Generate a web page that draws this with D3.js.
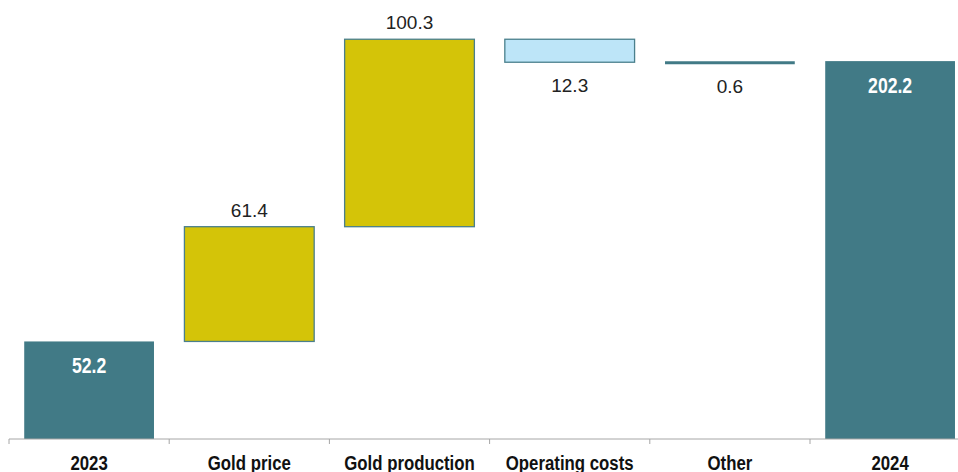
<!DOCTYPE html>
<html>
<head>
<meta charset="utf-8">
<script src="https://cdn.jsdelivr.net/npm/d3@7"></script>
<style>
  html, body { margin: 0; padding: 0; background: #fff; }
  svg { display: block; }
  .val { font-family: "Liberation Sans", Arial, sans-serif; font-size: 19px; fill: #222; }
  .tot { font-family: "Liberation Sans", Arial, sans-serif; font-size: 22px; font-weight: bold; fill: #fff; }
  .cat { font-family: "Liberation Sans", Arial, sans-serif; font-size: 21px; font-weight: bold; fill: #111; }
</style>
</head>
<body>
<svg id="chart" width="958" height="472"></svg>
<script>
const categories = ["2023", "Gold price", "Gold production", "Operating costs", "Other", "2024"];
const changes = [52.2, 61.4, 100.3, -12.3, -0.6, 202.2];
const kinds = ["total", "up", "up", "down", "down", "total"];
const labels = ["52.2", "61.4", "100.3", "12.3", "0.6", "202.2"];

const svg = d3.select("#chart");
const width = 958;
const narrow = 0.8; // fake a condensed face, no Arial Narrow here

const x = d3.scaleBand()
  .domain(categories)
  .range([9, 9 + 160.2 * categories.length])
  .paddingInner(0.19)
  .paddingOuter(0.095);

const y = d3.scaleLinear().domain([0, 234.9]).range([439, 0]);

// running totals for the waterfall
let run = 0;
const bars = categories.map((c, i) => {
  let lo, hi;
  if (kinds[i] === "total") {
    lo = 0; hi = changes[i]; run = changes[i];
  } else {
    const start = run;
    run += changes[i];
    lo = Math.min(start, run); hi = Math.max(start, run);
  }
  return { cat: c, lo, hi, kind: kinds[i], label: labels[i] };
});

const fill = { total: "#417a86", up: "#d4c408", down: "#bde5f8" };

const g = svg.append("g");

g.selectAll("rect.bar")
  .data(bars.filter(d => d.cat !== "Other"))
  .join("rect")
  .attr("class", "bar")
  .attr("x", d => x(d.cat))
  .attr("width", x.bandwidth())
  .attr("y", d => y(d.hi))
  .attr("height", d => y(d.lo) - y(d.hi))
  .attr("fill", d => fill[d.kind])
  .attr("stroke", d => d.kind === "total" ? "none" : "#4a7f8c")
  .attr("stroke-width", 1.3);

// "Other" is too small to see as a box, draw it as a thick line
const other = bars.find(d => d.cat === "Other");
g.append("line")
  .attr("x1", x(other.cat)).attr("x2", x(other.cat) + x.bandwidth())
  .attr("y1", (y(other.lo) + y(other.hi)) / 2)
  .attr("y2", (y(other.lo) + y(other.hi)) / 2)
  .attr("stroke", "#417a86")
  .attr("stroke-width", 3);

// value labels
g.selectAll("text.lbl")
  .data(bars)
  .join("text")
  .attr("class", d => d.kind === "total" ? "tot" : "val")
  .attr("text-anchor", "middle")
  .attr("transform", d => {
    const cx = x(d.cat) + x.bandwidth() / 2;
    if (d.kind === "total") return `translate(${cx},${y(d.hi) + 32}) scale(${narrow},1)`;
    if (d.kind === "up") return `translate(${cx},${y(d.hi) - 10})`;
    return `translate(${cx},${y(d.lo) + 30})`;
  })
  .text(d => d.label);

// axis
const axisY = y(0);
g.append("line")
  .attr("x1", 9).attr("x2", width)
  .attr("y1", axisY).attr("y2", axisY)
  .attr("stroke", "#a6a6a6").attr("stroke-width", 1);

const step = x.step();
const tickXs = d3.range(categories.length).map(i => 9 + i * step);
g.selectAll("line.tick")
  .data(tickXs)
  .join("line")
  .attr("class", "tick")
  .attr("x1", d => d).attr("x2", d => d)
  .attr("y1", axisY).attr("y2", axisY + 5)
  .attr("stroke", "#a6a6a6");

g.selectAll("text.cat")
  .data(categories)
  .join("text")
  .attr("class", "cat")
  .attr("text-anchor", "middle")
  .attr("transform", d => `translate(${x(d) + x.bandwidth() / 2},470) scale(${narrow},1)`)
  .text(d => d);
</script>
</body>
</html>
